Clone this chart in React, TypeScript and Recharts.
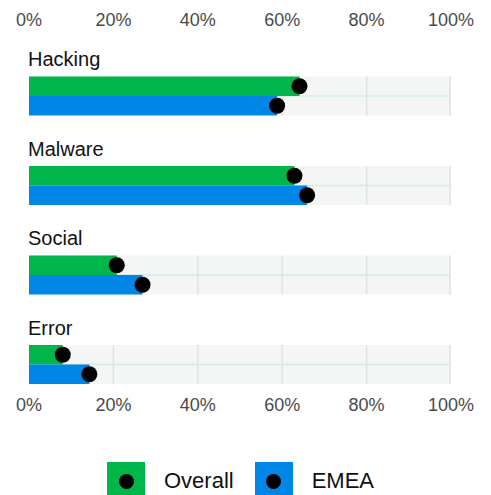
import React from 'react';
import { BarChart, Bar, XAxis, YAxis, Legend, LabelList } from 'recharts';

const categories = ['Hacking', 'Malware', 'Social', 'Error'];
const overallValues = [64.1, 62.9, 20.8, 8.0];
const emeaValues = [58.8, 65.9, 26.9, 14.3];
const tickValues = [0, 20, 40, 60, 80, 100];
const seriesNames = ['Overall', 'EMEA'];

const data = categories.map((c, i) => ({
  category: c,
  overall: overallValues[i],
  emea: emeaValues[i],
}));

const GREEN = '#00b64b';
const BLUE = '#0086e6';
const BAND_BG = '#f4f5f5';
const GRID = '#e0e3e3';
const MID_LINE = '#d3ebe3';
const FONT = '"Liberation Sans", Arial, Helvetica, sans-serif';
const DOMAIN: [number, number] = [tickValues[0], tickValues[tickValues.length - 1]];

const makeBackground = (withTopLine: boolean) => (props: any) => {
  const { x, y, width, height } = props;
  const span = DOMAIN[1] - DOMAIN[0];
  return (
    <g>
      <rect x={x} y={y} width={width} height={height} fill={BAND_BG} />
      {tickValues.slice(1).map((t) => {
        const lx = x + (width * (t - DOMAIN[0])) / span - (t === DOMAIN[1] ? 1 : 0);
        return <line key={t} x1={lx} x2={lx} y1={y} y2={y + height} stroke={GRID} strokeWidth={1.5} />;
      })}
      {withTopLine && (
        <line x1={x} x2={x + width} y1={y} y2={y} stroke={MID_LINE} strokeWidth={1.5} />
      )}
    </g>
  );
};

const barWithDot = (props: any) => {
  const { x, y, width, height, fill } = props;
  return (
    <g>
      <rect x={x} y={y} width={Math.max(0, width)} height={height} fill={fill} />
      <circle cx={x + width} cy={y + height / 2} r={8} fill="#000" />
    </g>
  );
};

const categoryLabel = (props: any) => {
  const vb = props.viewBox || props;
  return (
    <text x={vb.x - 1} y={vb.y - 10.5} fill="#111" fontSize={20} fontFamily={FONT} textAnchor="start">
      {props.value}
    </text>
  );
};

const LegendContent = () => {
  const colors = [GREEN, BLUE];
  return (
    <div
      style={{
        display: 'flex',
        alignItems: 'center',
        height: 40,
        paddingLeft: 99,
        fontFamily: FONT,
        fontSize: 22,
        color: '#111',
      }}
    >
      {seriesNames.map((name, i) => (
        <div key={name} style={{ display: 'flex', alignItems: 'center', marginLeft: i === 0 ? 0 : 21 }}>
          <div
            style={{
              width: 38,
              height: 38,
              background: colors[i],
              display: 'flex',
              alignItems: 'center',
              justifyContent: 'center',
            }}
          >
            <div style={{ width: 15, height: 15, borderRadius: '50%', background: '#000' }} />
          </div>
          <span style={{ marginLeft: 19 }}>{name}</span>
        </div>
      ))}
    </div>
  );
};

const tickStyle = { fill: '#4a4a4a', fontSize: 18, fontFamily: FONT };
const fmt = (v: number) => `${v}%`;

export default function App() {
  return (
    <BarChart
      width={483}
      height={500}
      data={data}
      layout="vertical"
      margin={{ top: 0, right: 40, left: 21, bottom: 7 }}
      barGap={0}
    >
      <XAxis
        xAxisId="top"
        orientation="top"
        type="number"
        domain={DOMAIN}
        ticks={tickValues}
        tickFormatter={fmt}
        axisLine={false}
        tickLine={false}
        tickSize={0}
        tickMargin={0}
        height={18}
        tick={tickStyle}
        interval={0}
      />
      <XAxis
        xAxisId="bottom"
        orientation="bottom"
        type="number"
        domain={DOMAIN}
        ticks={tickValues}
        tickFormatter={fmt}
        axisLine={false}
        tickLine={false}
        tickSize={0}
        tickMargin={14}
        height={77}
        tick={tickStyle}
        interval={0}
      />
      <YAxis type="category" dataKey="category" hide />
      <Bar
        xAxisId="top"
        dataKey={() => 0}
        barSize={49.5}
        fill="none"
        legendType="none"
        isAnimationActive={false}
      />
      <Bar
        xAxisId="bottom"
        dataKey="overall"
        name={seriesNames[0]}
        barSize={19.5}
        fill={GREEN}
        background={makeBackground(false)}
        shape={barWithDot}
        isAnimationActive={false}
      >
        <LabelList dataKey="category" content={categoryLabel} />
      </Bar>
      <Bar
        xAxisId="bottom"
        dataKey="emea"
        name={seriesNames[1]}
        barSize={19.5}
        fill={BLUE}
        background={makeBackground(true)}
        shape={barWithDot}
        isAnimationActive={false}
      />
      <Legend
        verticalAlign="bottom"
        content={() => <LegendContent />}
        wrapperStyle={{ left: 0, width: 483 }}
      />
    </BarChart>
  );
}
